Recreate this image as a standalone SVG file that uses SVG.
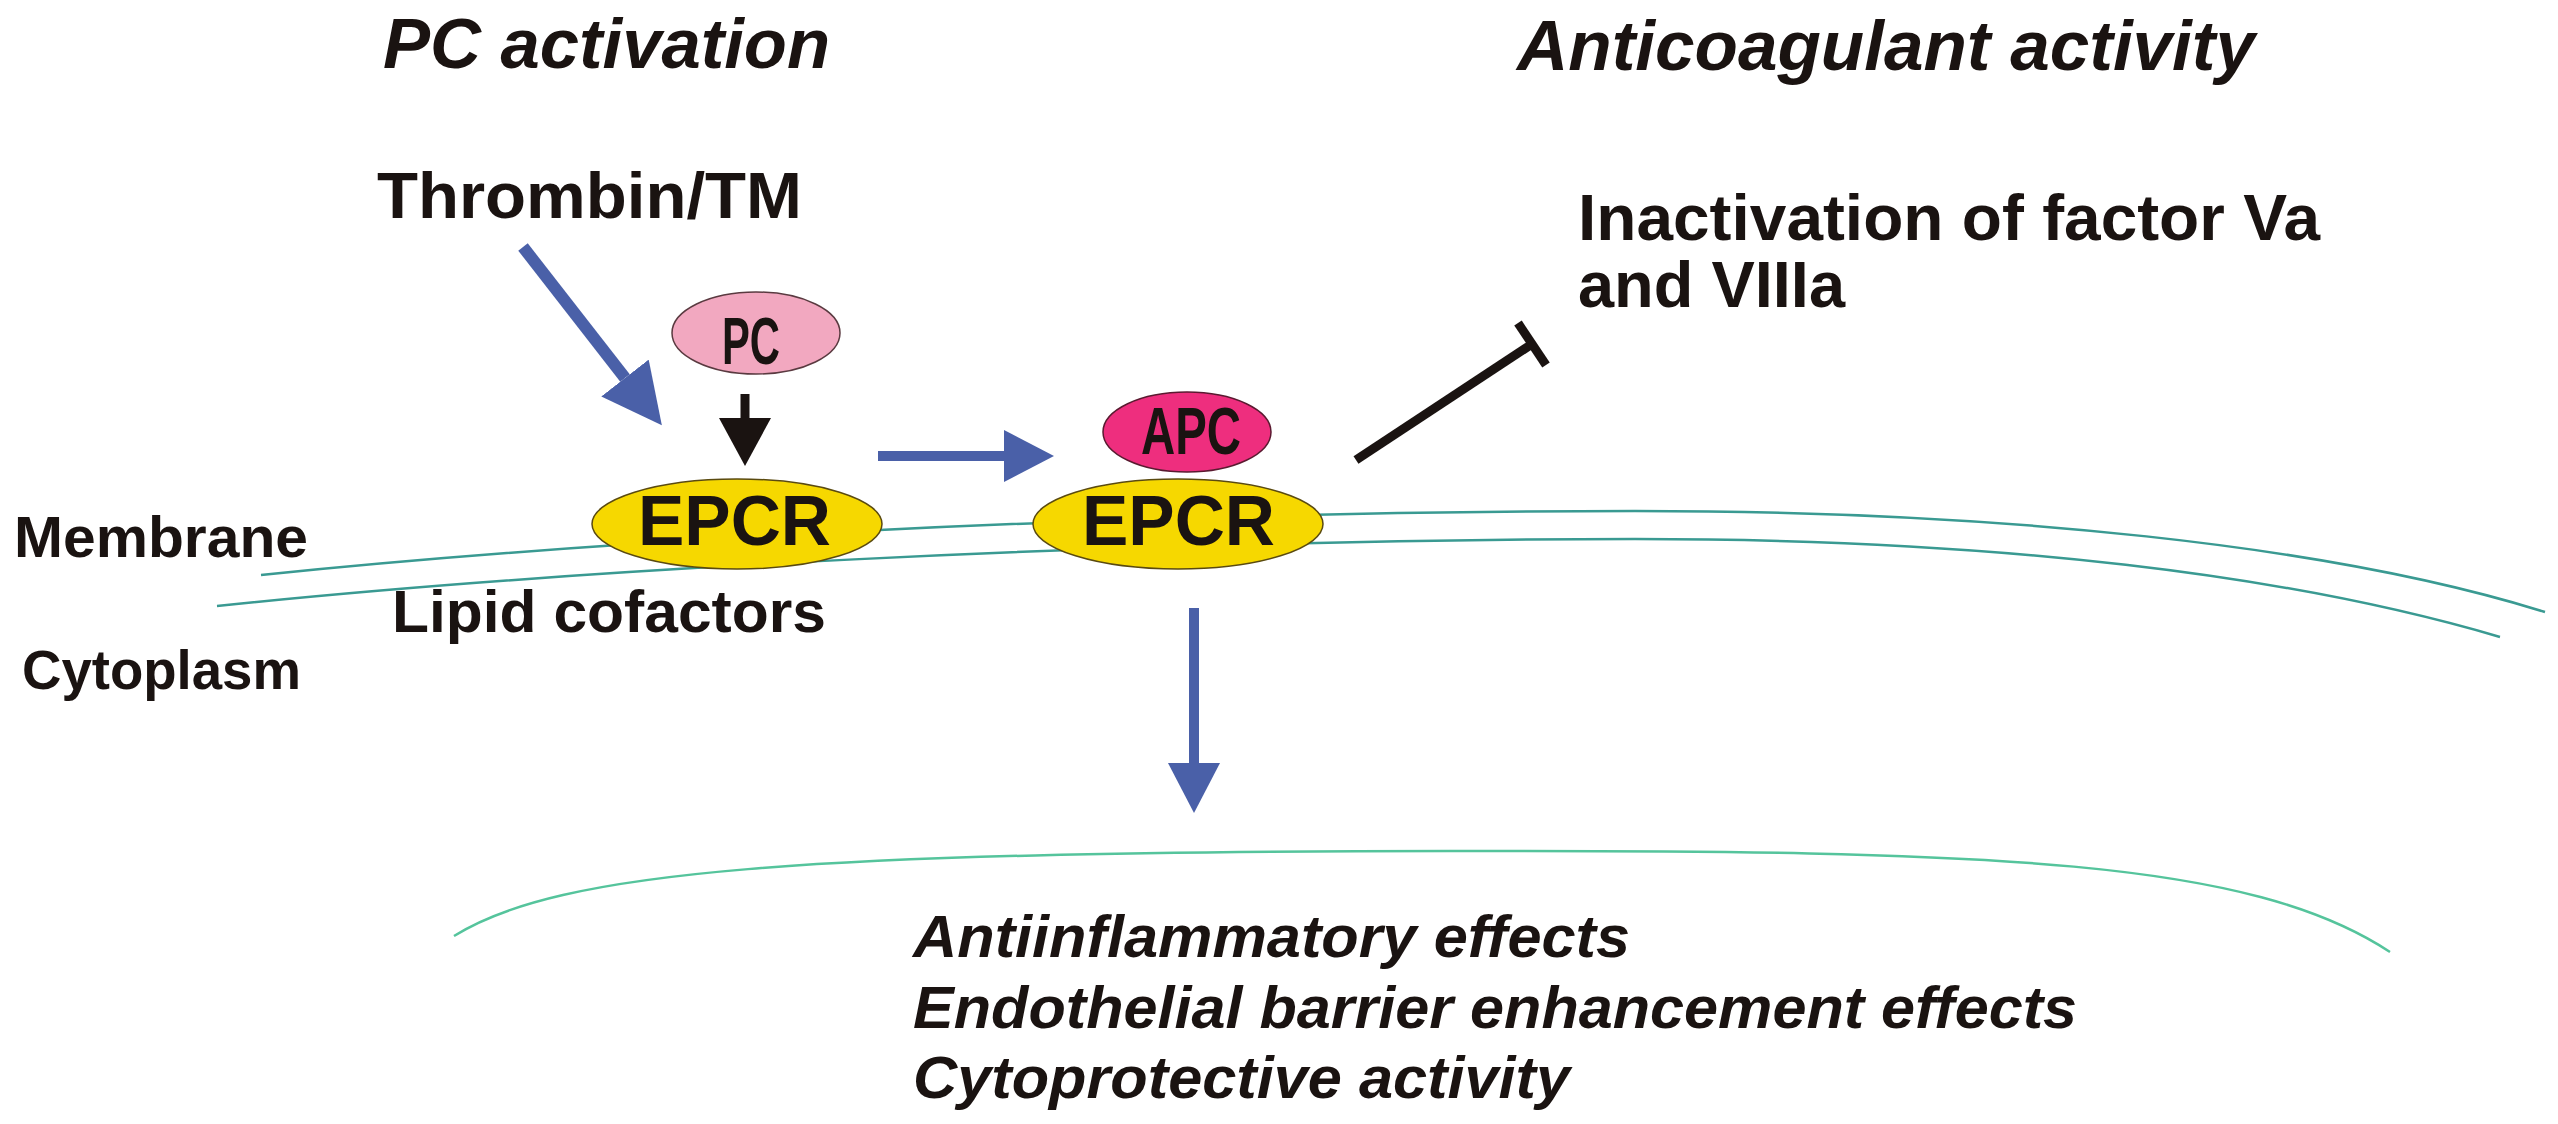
<svg xmlns="http://www.w3.org/2000/svg" width="2558" height="1124" viewBox="0 0 2558 1124">
  <style>
    .t { font-family: "Liberation Sans", Arial, sans-serif; font-weight: bold; fill: #1a1311; }
    .it { font-style: italic; }
    .mem { fill: none; stroke: #3a9a92; stroke-width: 2.5; }
    .cell { fill: none; stroke: #55c49c; stroke-width: 2.5; }
    .blue { stroke: #4a60a8; fill: none; }
    .epcr { fill: #f6d800; stroke: #5a4a10; stroke-width: 1.5; }
  </style>
  <defs>
    <marker id="ahBlueL" markerUnits="userSpaceOnUse" markerWidth="60" markerHeight="60" refX="0" refY="30" orient="auto">
      <path d="M0,0 L60,30 L0,60 z" fill="#4a60a8"/>
    </marker>
    <marker id="ahBlue" markerUnits="userSpaceOnUse" markerWidth="50" markerHeight="52" refX="0" refY="26" orient="auto">
      <path d="M0,0 L50,26 L0,52 z" fill="#4a60a8"/>
    </marker>
    <marker id="ahBlack" markerUnits="userSpaceOnUse" markerWidth="48" markerHeight="52" refX="0" refY="26" orient="auto">
      <path d="M0,0 L48,26 L0,52 z" fill="#1a1311"/>
    </marker>
  </defs>
  <rect width="2558" height="1124" fill="#ffffff"/>

  <g id="membrane">
    <path class="mem" d="M261,575 C600,540 1100,512 1635,511 C2000,511 2330,545 2545,612"/>
    <path class="mem" d="M217,606 C560,570 1100,540 1635,539 C2000,539 2290,575 2500,637"/>
    <path class="cell" d="M454,936 C560,870 800,852 1450,851 C2000,850 2250,860 2390,952"/>
  </g>

  <g id="titles">
    <text class="t it" x="383" y="68" font-size="70" textLength="447" lengthAdjust="spacingAndGlyphs">PC activation</text>
    <text class="t it" x="1517" y="70" font-size="70" textLength="738" lengthAdjust="spacingAndGlyphs">Anticoagulant activity</text>
  </g>

  <g id="thrombin">
    <text class="t" x="377" y="218" font-size="64" textLength="425" lengthAdjust="spacingAndGlyphs">Thrombin/TM</text>
  </g>

  <g id="inactivation">
    <text class="t" x="1578" y="240" font-size="64" textLength="742" lengthAdjust="spacingAndGlyphs">Inactivation of factor Va</text>
    <text class="t" x="1578" y="307" font-size="64" textLength="267" lengthAdjust="spacingAndGlyphs">and VIIIa</text>
  </g>

  <g id="label-membrane">
    <text class="t" x="14" y="557" font-size="58" textLength="294" lengthAdjust="spacingAndGlyphs">Membrane</text>
  </g>
  <g id="label-cytoplasm">
    <text class="t" x="22" y="689" font-size="56" textLength="279" lengthAdjust="spacingAndGlyphs">Cytoplasm</text>
  </g>
  <g id="label-lipid">
    <text class="t" x="392" y="632" font-size="60" textLength="434" lengthAdjust="spacingAndGlyphs">Lipid cofactors</text>
  </g>

  <g id="pc">
    <ellipse cx="756" cy="333" rx="84" ry="41" fill="#f2a8c0" stroke="#5a3a40" stroke-width="1.5"/>
    <text class="t" x="722" y="364" font-size="66" textLength="58" lengthAdjust="spacingAndGlyphs">PC</text>
  </g>

  <g id="epcr1">
    <ellipse class="epcr" cx="737" cy="524" rx="145" ry="45"/>
    <text class="t" x="638" y="545" font-size="70" textLength="193" lengthAdjust="spacingAndGlyphs">EPCR</text>
  </g>

  <g id="apc">
    <ellipse cx="1187" cy="432" rx="84" ry="40" fill="#ee2e7e" stroke="#5a1a30" stroke-width="1.5"/>
    <text class="t" x="1141" y="454" font-size="66" textLength="100" lengthAdjust="spacingAndGlyphs">APC</text>
  </g>

  <g id="epcr2">
    <ellipse class="epcr" cx="1178" cy="524" rx="145" ry="45"/>
    <text class="t" x="1082" y="545" font-size="70" textLength="193" lengthAdjust="spacingAndGlyphs">EPCR</text>
  </g>

  <g id="effects">
    <text class="t it" x="913" y="957" font-size="60" textLength="717" lengthAdjust="spacingAndGlyphs">Antiinflammatory effects</text>
    <text class="t it" x="913" y="1028" font-size="60" textLength="1164" lengthAdjust="spacingAndGlyphs">Endothelial barrier enhancement effects</text>
    <text class="t it" x="913" y="1098" font-size="60" textLength="657" lengthAdjust="spacingAndGlyphs">Cytoprotective activity</text>
  </g>

  <g id="connectors">
    <line class="blue" x1="523" y1="247" x2="625" y2="378" stroke-width="12" marker-end="url(#ahBlueL)"/>
    <line x1="745" y1="394" x2="745" y2="418" stroke="#1a1311" stroke-width="9" marker-end="url(#ahBlack)"/>
    <line class="blue" x1="878" y1="456" x2="1004" y2="456" stroke-width="10" marker-end="url(#ahBlue)"/>
    <line class="blue" x1="1194" y1="608" x2="1194" y2="763" stroke-width="10" marker-end="url(#ahBlue)"/>
    <line x1="1356" y1="460" x2="1532" y2="344" stroke="#1a1311" stroke-width="9"/>
    <line x1="1518" y1="323" x2="1546" y2="365" stroke="#1a1311" stroke-width="9"/>
  </g>
</svg>
